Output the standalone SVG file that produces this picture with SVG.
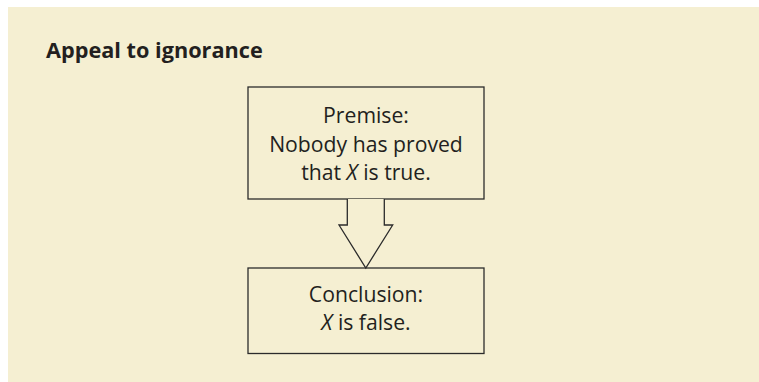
<svg xmlns="http://www.w3.org/2000/svg" width="759" height="382" viewBox="0 0 759 382">
<style>
.bg{fill:#F5EFD2}
.box{fill:#F5EFD2;stroke:#2b2b2b;stroke-width:1.3}
.t{font-family:"Open Sans","Liberation Sans",sans-serif;font-size:21.2px;fill:#231F20;text-anchor:middle}
.title{font-family:"Open Sans","Liberation Sans",sans-serif;font-size:21.7px;font-weight:bold;fill:#231F20}
.i{font-style:italic}
</style>
<rect class="bg" x="8" y="7" width="751" height="375"/>
<text class="title" x="46" y="57.5">Appeal to ignorance</text>
<g id="premise">
<rect class="box" x="248" y="87" width="236" height="112"/>
<text class="t" x="366" y="122.5">Premise:</text>
<text class="t" x="366" y="151.5">Nobody has proved</text>
<text class="t" x="366" y="179.5">that <tspan class="i">X</tspan> is true.</text>
</g>
<g id="conclusion">
<rect class="box" x="248" y="268" width="236" height="85.5"/>
<text class="t" x="366" y="301.5">Conclusion:</text>
<text class="t" x="366" y="329.5"><tspan class="i">X</tspan> is false.</text>
</g>
<g id="connectors">
<path class="box" d="M347.3,199 V225 H339 L365.8,268 L392.7,225 H384.3 V199"/>
</g>
</svg>
